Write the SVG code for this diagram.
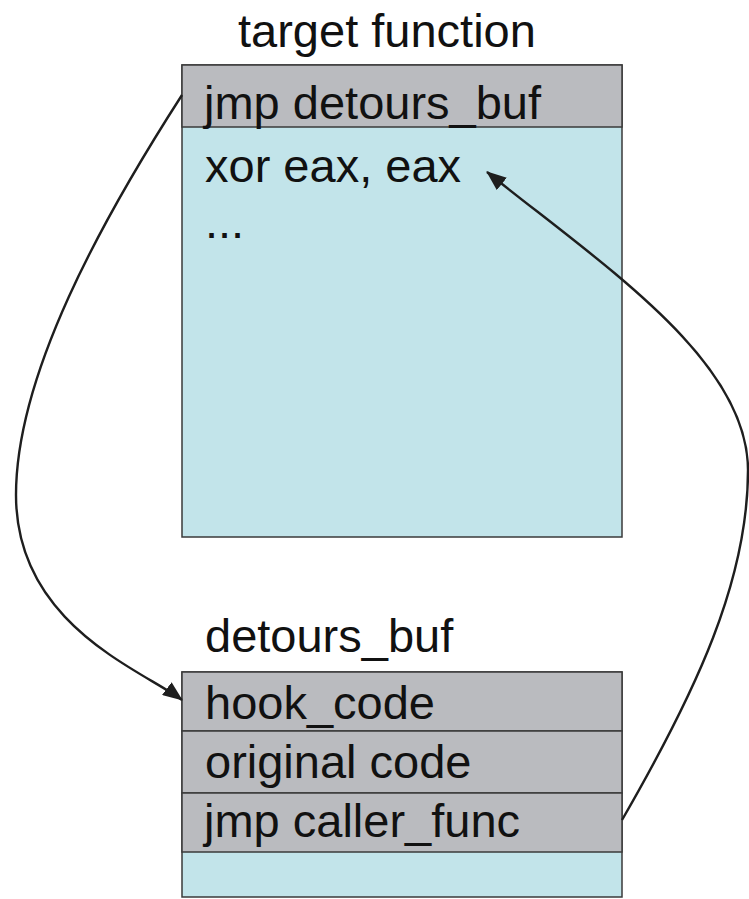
<svg xmlns="http://www.w3.org/2000/svg" width="749" height="899" viewBox="0 0 749 899">
  <defs>
    <style>
      .lbl { font-family: "Liberation Sans", Arial, sans-serif; font-size: 47px; fill: #111; }
      .gray { fill: #babbbf; stroke: #3a3a3a; stroke-width: 1.5; }
      .blue { fill: #c2e4ea; stroke: #3a3a3a; stroke-width: 1.5; }
      .edge { fill: none; stroke: #1e1e1e; stroke-width: 2.4; }
    </style>
    <marker id="arrow" viewBox="0 0 20 16" refX="19" refY="8" markerWidth="20" markerHeight="16" markerUnits="userSpaceOnUse" orient="auto">
      <path d="M0,0 L20,8 L0,16 Z" fill="#1e1e1e"/>
    </marker>
  </defs>
  <rect width="749" height="899" fill="#ffffff"/>

  <!-- target function block -->
  <g id="target-function">
    <text class="lbl" x="238" y="47">target function</text>
    <rect class="blue" x="182" y="65" width="440" height="472"/>
    <rect class="gray" x="182" y="65" width="440" height="62"/>
    <text class="lbl" x="204" y="119">jmp detours_buf</text>
    <text class="lbl" x="205" y="182">xor eax, eax</text>
    <text class="lbl" x="205" y="238">...</text>
  </g>

  <!-- detours buffer block -->
  <g id="detours-buf">
    <text class="lbl" x="205" y="652">detours_buf</text>
    <rect class="blue" x="182" y="672" width="440" height="225"/>
    <rect class="gray" x="182" y="672" width="440" height="59"/>
    <rect class="gray" x="182" y="731" width="440" height="62"/>
    <rect class="gray" x="182" y="793" width="440" height="59"/>
    <text class="lbl" x="205" y="719">hook_code</text>
    <text class="lbl" x="205" y="778">original code</text>
    <text class="lbl" x="204" y="837">jmp caller_func</text>
  </g>

  <!-- jumps -->
  <g id="connectors">
    <path class="edge" marker-end="url(#arrow)" d="M182,95 C101,221 16,375 16,495 C16,625 142,670 182,700"/>
    <path class="edge" marker-end="url(#arrow)" d="M622,820 C697,690 748,580 748,470 C748,360 604,266 487,172"/>
  </g>
</svg>
